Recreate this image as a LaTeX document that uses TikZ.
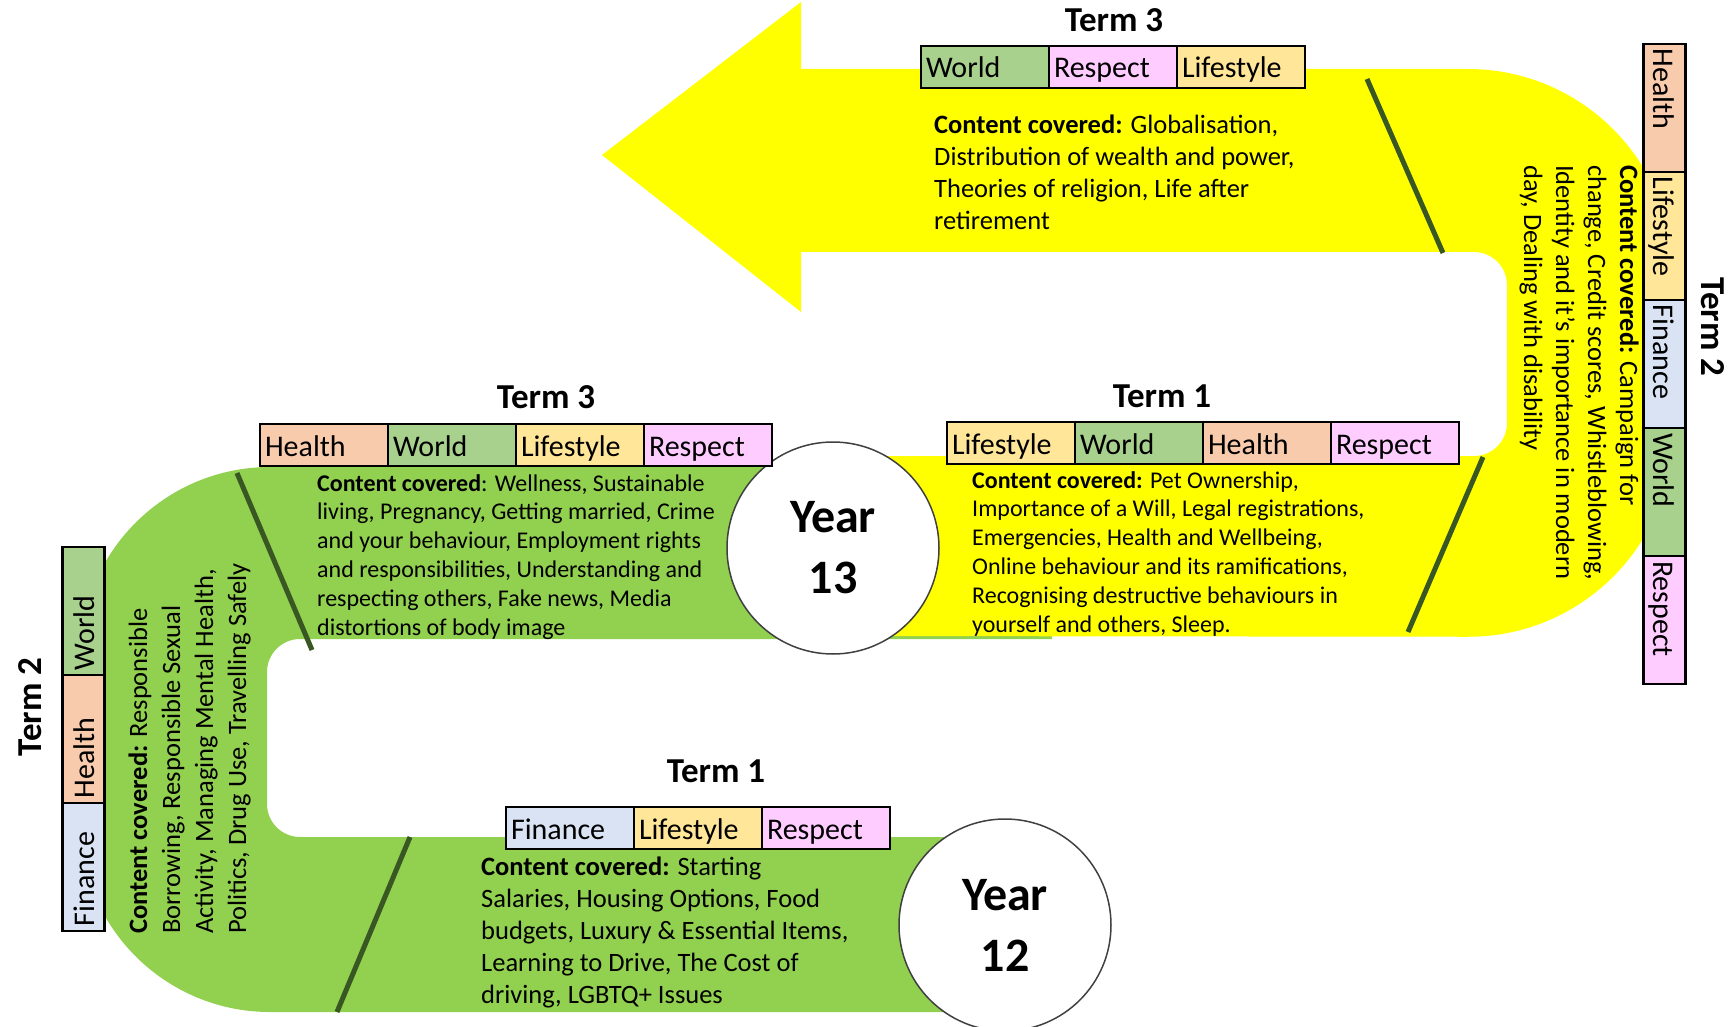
\documentclass[tikz,border=0pt]{standalone}
\usepackage{fontspec}
\setmainfont{Carlito}
\definecolor{yel}{HTML}{FFFF00}
\definecolor{grn}{HTML}{92D050}
\definecolor{divc}{HTML}{385723}
\definecolor{healthc}{HTML}{F8CBAD}
\definecolor{worldc}{HTML}{A9D18E}
\definecolor{lifec}{HTML}{FFE699}
\definecolor{respc}{HTML}{FFCCFF}
\definecolor{finc}{HTML}{DAE3F3}
\definecolor{circc}{HTML}{404040}
\begin{document}
\begin{tikzpicture}[x=1pt,y=-1pt,
  cell/.style={draw=black, line width=2.2pt, inner xsep=5pt, inner ysep=0pt,
    text width=118pt, align=left, text height=32pt, text depth=10pt,
    font=\fontsize{30}{36}\selectfont},
  health/.style={cell, fill=healthc},
  world/.style={cell, fill=worldc},
  life/.style={cell, fill=lifec},
  resp/.style={cell, fill=respc},
  fin/.style={cell, fill=finc},
  termlabel/.style={inner sep=0pt, font=\bfseries\fontsize{35}{42}\selectfont},
  content/.style={inner sep=0pt, anchor=base west},
  bigtext/.style={font=\fontsize{26.5}{32}\selectfont},
  smalltext/.style={font=\fontsize{24}{28.8}\selectfont},
  yearc/.style={circle, draw=circc, line width=1.5pt, fill=white, minimum size=212pt,
    inner sep=0pt, align=center, font=\bfseries\fontsize{48}{61}\selectfont},
  divider/.style={draw=divc, line width=5pt}]
\useasboundingbox (0,0) rectangle (1733,1027);

% green C band
\fill[grn] (1052,467) [rounded corners=190pt] -- (80,467) -- (80,1012) [sharp corners]
  -- (1005,1012) -- (1005,837) [rounded corners=33pt] -- (267,837) -- (267,639)
  [sharp corners] -- (1052,639) -- cycle;

% yellow U band with arrow
\fill[yel] (602,155) -- (801,2) -- (801,69) [rounded corners=205pt] -- (1673,69)
  -- (1673,637) [sharp corners] -- (833,636) -- (833,456) [rounded corners=33pt]
  -- (1507,456) -- (1507,252) [sharp corners] -- (801,252) -- (801,312) -- cycle;

% dividers
\draw[divider] (1367,79) -- (1443,253);
\draw[divider] (1483,457) -- (1408,632);
\draw[divider] (237,473) -- (312,650);
\draw[divider] (410,837) -- (337,1012);

% year circles
\node[yearc] (y13) at (833,548) {Year\\13};
\node[yearc] (y12) at (1005,925) {Year\\12};

% top term 3 (year 13)
\node[termlabel] (tthree) at (1114,20) {Term 3};
\node[world] (a1) at (985,67) {World};
\node[resp] (a2) at (1113,67) {Respect};
\node[life] (a3) at (1241,67) {Lifestyle};
\node[content, bigtext] (ca) at (934,134) {\begin{tabular}[t]{@{}l@{}}\textbf{Content covered:} Globalisation,\\
Distribution of wealth and power,\\
Theories of religion, Life after\\
retirement\end{tabular}};

% year 13 term 3 (green)
\node[termlabel] (mthree) at (546,397) {Term 3};
\node[health] (b1) at (324,445) {Health};
\node[world] (b2) at (452,445) {World};
\node[life] (b3) at (580,445) {Lifestyle};
\node[resp] (b4) at (708,445) {Respect};
\node[content, smalltext] (cb) at (317,491) {\begin{tabular}[t]{@{}l@{}}\textbf{Content covered}: Wellness, Sustainable\\
living, Pregnancy, Getting married, Crime\\
and your behaviour, Employment rights\\
and responsibilities, Understanding and\\
respecting others, Fake news, Media\\
distortions of body image\end{tabular}};

% year 13 term 1 (yellow)
\node[termlabel] (mone) at (1162,396) {Term 1};
\node[life] (d1) at (1011,443) {Lifestyle};
\node[world] (d2) at (1139,443) {World};
\node[health] (d3) at (1267,443) {Health};
\node[resp] (d4) at (1395,443) {Respect};
\node[content, smalltext] (cd) at (972,488) {\begin{tabular}[t]{@{}l@{}}\textbf{Content covered:} Pet Ownership,\\
Importance of a Will, Legal registrations,\\
Emergencies, Health and Wellbeing,\\
Online behaviour and its ramifications,\\
Recognising destructive behaviours in\\
yourself and others, Sleep.\end{tabular}};

% year 12 term 1
\node[termlabel] (lone) at (716,771) {Term 1};
\node[fin] (e1) at (570,828) {Finance};
\node[life] (e2) at (698,828) {Lifestyle};
\node[resp] (e3) at (826,828) {Respect};
\node[content, bigtext] (ce) at (481,875) {\begin{tabular}[t]{@{}l@{}}\textbf{Content covered:} Starting\\
Salaries, Housing Options, Food\\
budgets, Luxury \& Essential Items,\\
Learning to Drive, The Cost of\\
driving, LGBTQ+ Issues\end{tabular}};

% year 12 term 2 (left, rotated)
\node[termlabel, rotate=90] (ltwo) at (30,707) {Term 2};
\node[fin, rotate=90] (f1) at (83.5,867) {Finance};
\node[health, rotate=90] (f2) at (83.5,739) {Health};
\node[world, rotate=90] (f3) at (83.5,611) {World};
\node[content, rotate=90, font=\fontsize{26.5}{33}\selectfont] (cf) at (147,934) {\begin{tabular}[t]{@{}l@{}}\textbf{Content covered:} Responsible\\
Borrowing, Responsible Sexual\\
Activity, Managing Mental Health,\\
Politics, Drug Use, Travelling Safely\end{tabular}};

% year 13 term 2 (right, rotated)
\node[termlabel, rotate=-90] (rtwo) at (1713,327) {Term 2};
\node[health, rotate=-90] (g1) at (1664.5,108) {Health};
\node[life, rotate=-90] (g2) at (1664.5,236) {Lifestyle};
\node[fin, rotate=-90] (g3) at (1664.5,364) {Finance};
\node[world, rotate=-90] (g4) at (1664.5,492) {World};
\node[resp, rotate=-90] (g5) at (1664.5,620) {Respect};
\node[content, rotate=-90, bigtext] (cg) at (1620,165) {\begin{tabular}[t]{@{}l@{}}\textbf{Content covered:} Campaign for\\
change, Credit scores, Whistleblowing,\\
Identity and it’s importance in modern\\
day, Dealing with disability\end{tabular}};
\end{tikzpicture}
\end{document}
